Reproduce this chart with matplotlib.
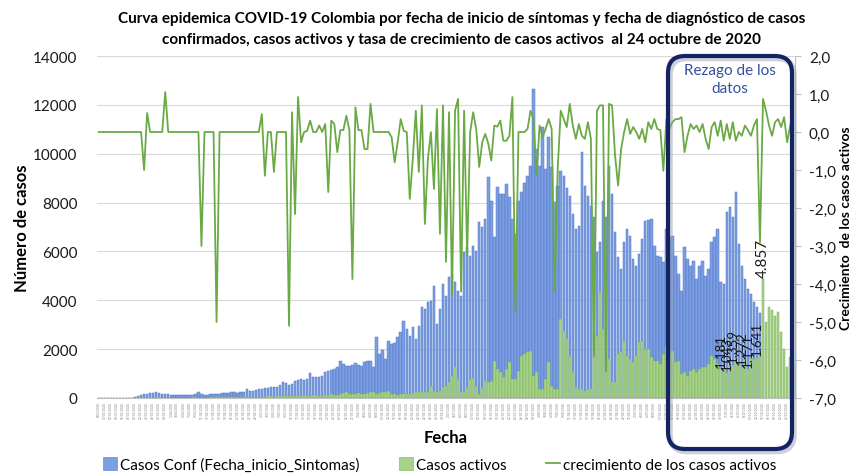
import numpy as np
import pandas as pd
import matplotlib.pyplot as plt
from matplotlib.patches import FancyBboxPatch, Patch
from matplotlib.lines import Line2D
from matplotlib.ticker import FuncFormatter

# casos confirmados por fecha de inicio de sintomas
casos_conf = [0, 0, 0, 0, 0, 0, 0, 0, 0, 5, 10, 20, 40, 80,
              110, 150, 180, 200, 190, 230, 210, 180, 170,
              150, 140, 130, 140, 130, 120, 130, 140, 120, 160, 230, 180, 140, 130, 150, 170, 160, 180, 200,
              210, 220, 230, 240, 220, 250, 260, 370, 280,
              300, 320, 380, 350, 400, 420, 450,
              430, 470, 520, 670, 600, 520, 560,
              700, 750, 760, 740, 780, 1020, 880,
              860, 880, 900, 1050, 1100, 1150, 1200,
              1260, 1500, 1400, 1330, 1300, 1350, 1430,
              1350, 1320, 1480, 1500, 1510, 1270, 2500,
              1800, 1980, 1600, 2350,
              2210, 2250, 2500, 2700, 3160, 2820, 2550,
              2900, 2400, 2960, 3720, 3640, 3920, 3980,
              4600, 3030, 3640, 4670, 4190, 4950, 5080,
              4750, 4390, 4190, 5970, 6180, 5830, 6240,
              6030, 7200, 7000, 7330, 9050, 8080, 6590,
              8640, 8350, 8350, 8760, 8230, 7330, 6710,
              8080, 8430, 8800, 9100, 9510,
              12650, 10200, 9510, 11090, 9370, 10680, 9450, 8020, 8690, 9300,
              9100, 8600, 8280, 7530, 6920, 7050, 10070, 8690, 8280, 7870,
              7410, 5970, 6390, 8080, 7410, 9510, 8350, 6800, 5770, 5280,
              6390, 6920, 6640, 5690, 5410, 5900, 6510, 7260,
              7300, 7330, 6240, 5830, 5770, 5570, 6920, 6590, 6640, 5830,
              5080, 4390, 6170, 5690, 5410, 5620, 4870, 5410, 5620, 5010,
              5280, 6390, 6590, 6920, 4750, 4670, 7610, 7800, 7400, 8430,
              6300, 5410, 4870, 4460, 4260, 3930, 3720, 3500,
              0, 0, 0, 0, 0, 0, 0, 0, 0, 0, 0]

# casos activos
casos_activos = [0, 0, 0, 0, 0, 0, 0, 0, 0, 0, 0, 0, 0,
                 5, 8, 10, 12, 15, 18, 20, 22, 20, 18, 15, 12, 10, 10, 12, 15,
                 18, 20, 22, 25, 20, 18, 15, 20, 25, 30, 28, 25,
                 30, 35, 40, 35, 30, 40, 45, 50, 45, 40, 50, 60, 55, 50, 60, 70, 65, 60,
                 70, 80, 75, 70, 80, 90, 85, 80, 100, 120, 90, 80, 110, 130, 100, 90, 120,
                 140, 160, 120, 110, 150, 200, 250, 180, 150, 170, 210, 160, 150, 200,
                 250, 230, 180, 220, 260, 240, 300,
                 150, 160, 140, 170, 150, 180, 160,
                 220, 240, 260, 230, 250, 240,
                 500, 300, 250, 300, 450, 500, 650, 900, 1270, 780, 250, 250, 400, 780,
                 800, 500, 150, 400, 700, 650, 700, 1500, 1190, 1060, 860, 1190, 1470,
                 780, 780, 1100, 1720, 1800, 1880, 1920,
                 920, 1060, 370, 370, 780, 1470, 500, 370, 370, 3230,
                 2760, 2420, 1730, 1060, 450, 370, 370, 300, 370, 370,
                 2700, 2550, 4340, 2820, 4600, 1600, 650, 650, 1800, 1880,
                 2350, 1730, 1600, 1470, 1730, 2290, 2350, 2000,
                 2000, 1670, 1530, 1530, 1390, 1800, 2140, 1940, 1940, 1470,
                 1530, 980, 1060, 920, 1120, 1190, 1060, 1190, 1250, 1250,
                 1390, 1730, 1600, 1390, 1181, 1250, 1043, 1250, 1359, 1470,
                 1400, 1272, 1600, 1171, 1670, 1600, 1641, 1730,
                 4857, 3110, 3720, 3600, 3370, 3530, 2700, 2000, 1270, 1670, 1600]

# crecimiento de los casos activos (eje derecho)
crecimiento = [0, 0, 0, 0, 0, 0, 0, 0, 0, 0, 0, 0, 0, 0, 0,
               -1.0, 0.5, 0, 0, 0, 0, 0, 1.05,
               0, 0, 0, 0, 0, 0, 0, 0, 0, 0, 0,
               -3.0, 0, 0, 0, 0, -5.0,
               0, 0, 0, 0, 0, 0, 0, 0, 0, 0, 0, 0, 0, 0,
               0.47, -1.15, 0, 0, -1.05, 0, 0, 0, 0, -5.1,
               0.52, -2.16, 0.92, -0.27, 0, 0.03, 0.3, 0, 0, 0.17, 0, 0.21,
               -1.58, 0.3, 0.21, -0.53, 0.05, 0.05, 0.43, 0.05, -3.87, 0.65, 0.05, 0.05, -0.45, -0.45, 0.74,
               0, 0, 0, 0, 0, 0,
               -0.14, -0.8, -0.27, 0.34, 0.03, 0.0, -1.76, -0.71, 0.56, -1.05, 0.7, -2.42, -0.71, 0,
               -1.5, 0.6, -2.68, 0.7, -3.42, 0.52, -4.3, 0.56, 0.87, -4.2, 0.56, -3.25,
               0.0, 0.52, 0.08, -0.92, -0.27, -0.05, -0.3, -0.75, 0.17, 0.14, 0.3, -0.23, -0.23, -0.1, 0.92, -4.74,
               0, 0, 0, 0.08, 0.56, 0.34, -1.15, 0.17, -0.13, 0.08, 0.34, 0.08,
               -4.2, -0.97, 0.56, 0.34, 0.13, 0.74, 0.17, -0.18, 0.21, -0.1, -0.18, 0.26, -0.18,
               -5.9, 0.56, 0.7, 0.7, -6.3, 0.74, 0.7, -0.62, -1.41, -0.45, 0, 0.34, -0.05, 0.13, 0, -0.18,
               0.08, -0.27, 0.26, 0.08, 0.34, 0.08, 0.05, -1.02, 0.34, 0.08, 0.26, 0.34, 0.34, 0.39,
               -0.53, -0.1, 0.21, 0.08, 0.17, 0, 0.21, -0.18, -0.45, 0.13, 0.26, -0.1, 0.3, -0.23,
               0.21, -0.18, 0.26, -0.23, 0, -0.1, 0.17, 0.05, -0.1, 0.17, 0.34,
               -2.9, 0.87, 0.56, 0.17, -0.1, 0.26, 0.34, 0.13, 0.39, -0.27, 0.17, 0.43]

fechas = pd.date_range(end='2020-10-24', periods=len(casos_conf))
etiquetas_fecha = [f'{d.day}/{d.month:02d}/{d.year}' for d in fechas]

# etiquetas de datos que aparecen sobre las barras verdes
etiquetas_idx = [206, 208, 210, 213, 215, 218, 220]
etiquetas_txt = ['1.181', '1.043', '1.359', '1.272', '1.171', '1.641', '4.857']

plt.rcParams['font.family'] = ['Lato', 'DejaVu Sans']

fig = plt.figure(figsize=(8.62, 4.77), dpi=100)
ax = fig.add_axes([97/862, 1 - 399/477, (795 - 97)/862, (399 - 57)/477])
x = np.arange(len(casos_conf))

ax.bar(x, casos_conf, width=0.82, color='#7C9EE2', edgecolor='#5078C8', linewidth=0.35, zorder=2)
ax.bar(x, casos_activos, width=0.82, color='#A8D28C', edgecolor='#76B050', linewidth=0.35, zorder=3)

for i, t in zip(etiquetas_idx, etiquetas_txt):
    fs = 11 if t == '4.857' else 9.5
    ax.text(i, casos_activos[i] + 100, t, rotation=90, ha='center', va='bottom',
            fontsize=fs, color='#1a1a1a', zorder=5)

ax.set_xlim(-0.6, len(x) - 0.4)
ax.set_ylim(0, 14000)
ax.set_yticks(range(0, 14001, 2000))
ax.tick_params(axis='y', length=0, labelsize=11, colors='#1a1a1a', pad=14)
ax.grid(axis='y', color='#D9D9D9', linewidth=0.8, zorder=0)
ax.set_axisbelow(True)
for s in ['top', 'left', 'right']:
    ax.spines[s].set_visible(False)
ax.spines['bottom'].set_color('#BFBFBF')

ax.set_xticks(x[::2])
ax.set_xticklabels(etiquetas_fecha[::2], rotation=90, fontsize=2.2, color='#808080')
ax.tick_params(axis='x', length=0, pad=2)

ax.set_ylabel('Número de casos', fontsize=12, fontweight='bold', labelpad=2)
ax.set_xlabel('Fecha', fontsize=12, fontweight='bold', labelpad=8)

# eje derecho: tasa de crecimiento
ax2 = ax.twinx()
ax2.plot(x, crecimiento, color='#6AAA45', linewidth=1.3, zorder=4)
ax2.set_ylim(-7, 2)
ax2.set_yticks(np.arange(-7, 2.01, 1))
ax2.yaxis.set_major_formatter(FuncFormatter(lambda v, p: f'{v:.1f}'.replace('.', ',')))
ax2.tick_params(axis='y', labelsize=11, colors='#1a1a1a', length=4, width=0.8, pad=6)
ax2.tick_params(axis='y', color='#BFBFBF')
for s in ['top', 'left', 'bottom']:
    ax2.spines[s].set_visible(False)
ax2.spines['right'].set_color('#BFBFBF')
ax2.set_ylabel('Crecimiento  de los casos activos', fontsize=10, fontweight='bold', labelpad=3)

# titulo en dos lineas
fig.text(462/862, 1 - 19/477, 'Curva epidemica COVID-19 Colombia por fecha de inicio de síntomas y fecha de diagnóstico de casos',
         ha='center', va='center', fontsize=11, fontweight='bold')
fig.text(462/862, 1 - 40/477, 'confirmados, casos activos y tasa de crecimiento de casos activos  al 24 octubre de 2020',
         ha='center', va='center', fontsize=11, fontweight='bold')

# recuadro "Rezago de los datos"
sombra = FancyBboxPatch((6.70, 0.245), 1.24, 3.93, boxstyle='round,pad=0,rounding_size=0.17',
                        transform=fig.dpi_scale_trans, facecolor='none', edgecolor='#9AA3B8',
                        linewidth=4, alpha=0.5, zorder=9)
caja = FancyBboxPatch((6.68, 0.27), 1.24, 3.93, boxstyle='round,pad=0,rounding_size=0.17',
                      transform=fig.dpi_scale_trans, facecolor='none', edgecolor='#142463',
                      linewidth=3, zorder=10)
fig.patches.extend([sombra, caja])
fig.text(7.30/8.62, 1 - 80/477, 'Rezago de los\ndatos', ha='center', va='center',
         fontsize=11, color='#34519C', linespacing=1.3)

handles = [Patch(facecolor='#7C9EE2', edgecolor='#5078C8', linewidth=0.4),
           Patch(facecolor='#A8D28C', edgecolor='#76B050', linewidth=0.4),
           Line2D([0], [0], color='#6AAA45', linewidth=1.3)]
fig.legend(handles, ['Casos Conf (Fecha_inicio_Sintomas)', 'Casos activos',
                     'crecimiento de los casos activos'],
           loc='lower center', bbox_to_anchor=(0.51, -0.02), ncol=3, frameon=False,
           fontsize=11, handlelength=0.9, handleheight=0.9, handletextpad=0.2, columnspacing=2.6)

plt.savefig('out.png', dpi=100)
